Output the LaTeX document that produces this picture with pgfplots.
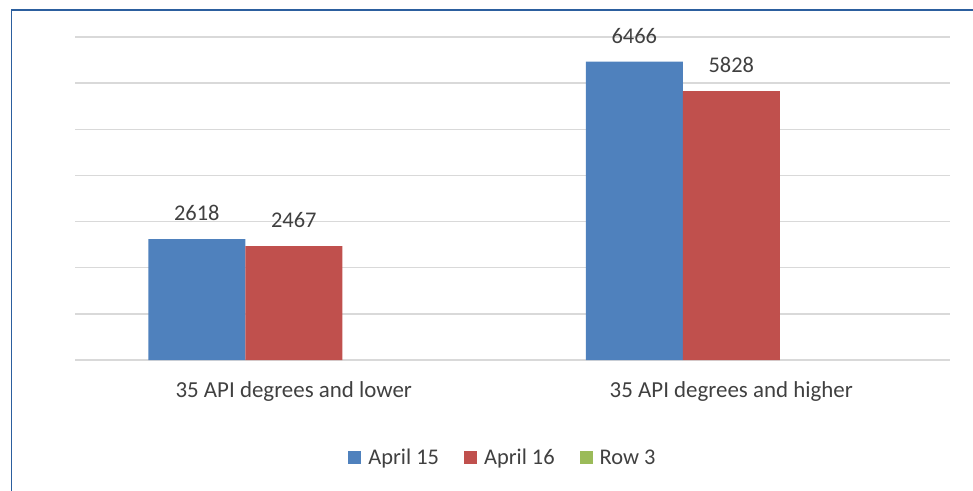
\documentclass[border=0pt]{standalone}
\usepackage{fontspec}
\setmainfont{Carlito}
\usepackage{pgfplots}
\pgfplotsset{compat=1.18}

\definecolor{barblue}{HTML}{4F81BD}
\definecolor{barred}{HTML}{C0504D}
\definecolor{bargreen}{HTML}{9BBB59}
\definecolor{gridgray}{HTML}{D9D9D9}
\definecolor{frameblue}{HTML}{2C5F9E}
\definecolor{labelgray}{HTML}{404040}

\pgfplotsset{
  sqlegend/.style={legend image code/.code={\fill[##1] (0bp,-6.5bp) rectangle (13bp,6.5bp);}},
  valuelabels/.style={nodes near coords,
    every node near coord/.append style={font=\fontsize{22.5}{26}\selectfont, text=labelgray,
      anchor=south, inner sep=0pt, yshift=18bp, xshift=#1}},
}

\begin{document}
\begin{tikzpicture}
\path[use as bounding box] (0,0) rectangle (973bp,491bp);
\draw[frameblue, line width=1.4bp] (11.5bp,0) -- (11.5bp,481bp) -- (973bp,481bp);
\begin{axis}[
  at={(75bp,131bp)}, anchor=south west,
  scale only axis, width=875bp, height=323bp,
  xmin=-0.5, xmax=1.5, ymin=0, ymax=7000,
  ytick={0,1000,...,7000}, yticklabel=\empty,
  xtick={0,1},
  xticklabels={35 API degrees and lower, 35 API degrees and higher},
  ymajorgrids, grid style={gridgray, line width=1.3bp},
  axis line style={draw=none}, major tick length=0pt,
  xticklabel style={font=\fontsize{23}{27}\selectfont, text=labelgray,
    anchor=base, yshift=-37bp, inner sep=0pt},
  /pgf/number format/assume math mode=true,
  /pgf/number format/1000 sep={},
  clip=false,
  legend columns=3,
  legend style={draw=none, at={(0.488,-0.303)}, anchor=center,
    font=\fontsize{22.5}{26}\selectfont, text=labelgray,
    nodes={inner sep=0pt},
    /tikz/every odd column/.append style={column sep=7bp},
    /tikz/every even column/.append style={column sep=25bp}},
]
\addplot[ybar, bar width=97bp, bar shift=-97bp, fill=barblue, draw=none, sqlegend, valuelabels=-97bp]
  coordinates {(0,2618) (1,6466)};
\addlegendentry{April 15}
\addplot[ybar, bar width=97bp, bar shift=0bp, fill=barred, draw=none, sqlegend, valuelabels=0bp]
  coordinates {(0,2467) (1,5828)};
\addlegendentry{April 16}
\addlegendimage{fill=bargreen, draw=none, sqlegend}
\addlegendentry{Row 3}
\end{axis}
\end{tikzpicture}
\end{document}
